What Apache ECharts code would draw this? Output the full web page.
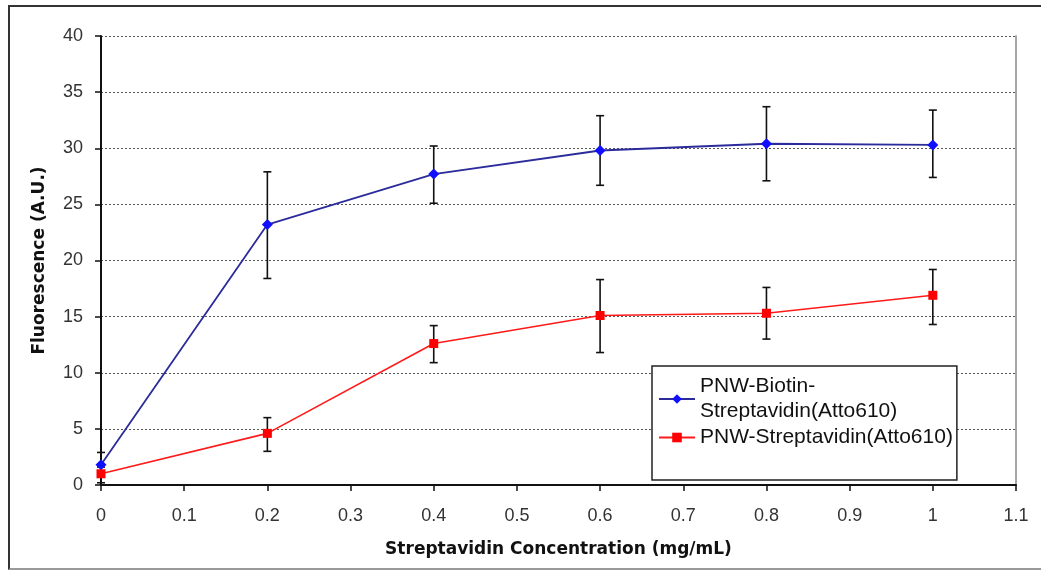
<!DOCTYPE html>
<html>
<head>
<meta charset="utf-8">
<script src="https://cdn.jsdelivr.net/npm/echarts@6/dist/echarts.min.js"></script>
<style>
  html, body { margin: 0; padding: 0; background: #fff; }
  #wrap { position: relative; width: 1041px; height: 574px; overflow: hidden; }
  #frame {
    position: absolute; left: 8px; top: 5px; width: 1040px; height: 565px;
    border-top: 2px solid #333; border-left: 2px solid #333; border-bottom: 2px solid #999;
    box-sizing: border-box; pointer-events: none;
  }
  #chart { position: absolute; left: 0; top: 0; width: 1041px; height: 574px; }
</style>
</head>
<body>
<div id="wrap">
  <div id="chart"></div>
  <div id="frame"></div>
</div>
<script>
// x values (mg/mL)
const concentrations = [0, 0.2, 0.4, 0.6, 0.8, 1.0];
// PNW-Biotin-Streptavidin(Atto610)
const biotinMean = [1.8, 23.2, 27.7, 29.8, 30.4, 30.3];
const biotinLow  = [0.8, 18.4, 25.1, 26.7, 27.1, 27.4];
const biotinHigh = [2.9, 27.9, 30.2, 32.9, 33.7, 33.4];
// PNW-Streptavidin(Atto610)
const streptMean = [1.0, 4.6, 12.6, 15.1, 15.3, 16.9];
const streptLow  = [0.2, 3.0, 10.9, 11.8, 13.0, 14.3];
const streptHigh = [1.6, 6.0, 14.2, 18.3, 17.6, 19.2];

const yTicks = [0, 5, 10, 15, 20, 25, 30, 35, 40];

const pairs = (xs, ys) => xs.map((x, i) => [x, ys[i]]);
const errRows = (xs, lo, hi) => xs.map((x, i) => [x, lo[i], hi[i]]);

function renderErr(params, api) {
  const x = api.value(0);
  const lo = api.coord([x, api.value(1)]);
  const hi = api.coord([x, api.value(2)]);
  const half = 4;
  const style = { stroke: '#111', lineWidth: 1.6 };
  return {
    type: 'group',
    children: [
      { type: 'line', shape: { x1: lo[0], y1: lo[1], x2: hi[0], y2: hi[1] }, style },
      { type: 'line', shape: { x1: lo[0] - half, y1: lo[1], x2: lo[0] + half, y2: lo[1] }, style },
      { type: 'line', shape: { x1: hi[0] - half, y1: hi[1], x2: hi[0] + half, y2: hi[1] }, style }
    ]
  };
}

const chart = echarts.init(document.getElementById('chart'));
const font = '"Liberation Sans", Arial, sans-serif';
const boldFont = '"DejaVu Sans", Verdana, sans-serif';

chart.setOption({
  animation: false,
  backgroundColor: '#fff',
  grid: { left: 101, top: 36, right: 25, bottom: 89 },
  legend: {
    orient: 'vertical',
    left: 652,
    top: 366,
    padding: [8, 4, 30, 6],
    itemGap: 1,
    itemWidth: 36,
    itemHeight: 12,
    borderColor: '#222',
    borderWidth: 1.5,
    backgroundColor: '#fff',
    textStyle: { fontFamily: font, fontSize: 21, color: '#111', lineHeight: 25 },
    formatter: name => name === 'PNW-Biotin-Streptavidin(Atto610)' ? 'PNW-Biotin-\nStreptavidin(Atto610)' : name,
    data: ['PNW-Biotin-Streptavidin(Atto610)', 'PNW-Streptavidin(Atto610)']
  },
  xAxis: {
    type: 'value',
    min: 0,
    max: 1.1,
    interval: 0.1,
    name: 'Streptavidin Concentration (mg/mL)',
    nameLocation: 'middle',
    nameGap: 56,
    nameTextStyle: { fontFamily: boldFont, fontWeight: 'bold', fontSize: 17, color: '#111' },
    axisLine: { show: true, lineStyle: { color: '#111', width: 2 } },
    axisTick: { show: true, length: 6, lineStyle: { color: '#111', width: 1.5 } },
    axisLabel: {
      margin: 22,
      fontFamily: font, fontSize: 18, color: '#333',
      formatter: v => String(Math.round(v * 10) / 10)
    },
    splitLine: { show: false }
  },
  yAxis: [{
    type: 'value',
    min: 0,
    max: 40,
    interval: 5,
    name: 'Fluorescence (A.U.)',
    nameLocation: 'middle',
    nameGap: 53,
    nameTextStyle: { fontFamily: boldFont, fontWeight: 'bold', fontSize: 17, color: '#111' },
    axisLine: { show: true, lineStyle: { color: '#111', width: 2 } },
    axisTick: { show: true, length: 6, lineStyle: { color: '#111', width: 1.5 } },
    axisLabel: {
      margin: 18, fontFamily: font, fontSize: 18, color: '#333',
      formatter: v => yTicks.includes(v) ? String(v) : ''
    },
    splitLine: { show: true, lineStyle: { color: '#555', width: 1, type: [2, 2] } }
  }, {
    type: 'value',
    min: 0,
    max: 40,
    position: 'right',
    axisLine: { show: true, lineStyle: { color: '#a6a6a6', width: 2 } },
    axisTick: { show: false },
    axisLabel: { show: false },
    splitLine: { show: false }
  }],
  series: [
    {
      type: 'custom',
      name: 'biotinErr',
      renderItem: renderErr,
      data: errRows(concentrations, biotinLow, biotinHigh),
      encode: { x: 0, y: [1, 2] },
      z: 1,
      silent: true
    },
    {
      type: 'custom',
      name: 'streptErr',
      renderItem: renderErr,
      data: errRows(concentrations, streptLow, streptHigh),
      encode: { x: 0, y: [1, 2] },
      z: 1,
      silent: true
    },
    {
      type: 'line',
      name: 'PNW-Biotin-Streptavidin(Atto610)',
      data: pairs(concentrations, biotinMean),
      symbol: 'diamond',
      symbolSize: 11,
      showSymbol: true,
      lineStyle: { color: '#2b2b9b', width: 1.8 },
      itemStyle: { color: '#1010ff' },
      z: 3
    },
    {
      type: 'line',
      name: 'PNW-Streptavidin(Atto610)',
      data: pairs(concentrations, streptMean),
      symbol: 'rect',
      symbolSize: 9,
      showSymbol: true,
      lineStyle: { color: '#ff1a1a', width: 1.6 },
      itemStyle: { color: '#ff0000' },
      z: 3
    }
  ]
});
</script>
</body>
</html>
